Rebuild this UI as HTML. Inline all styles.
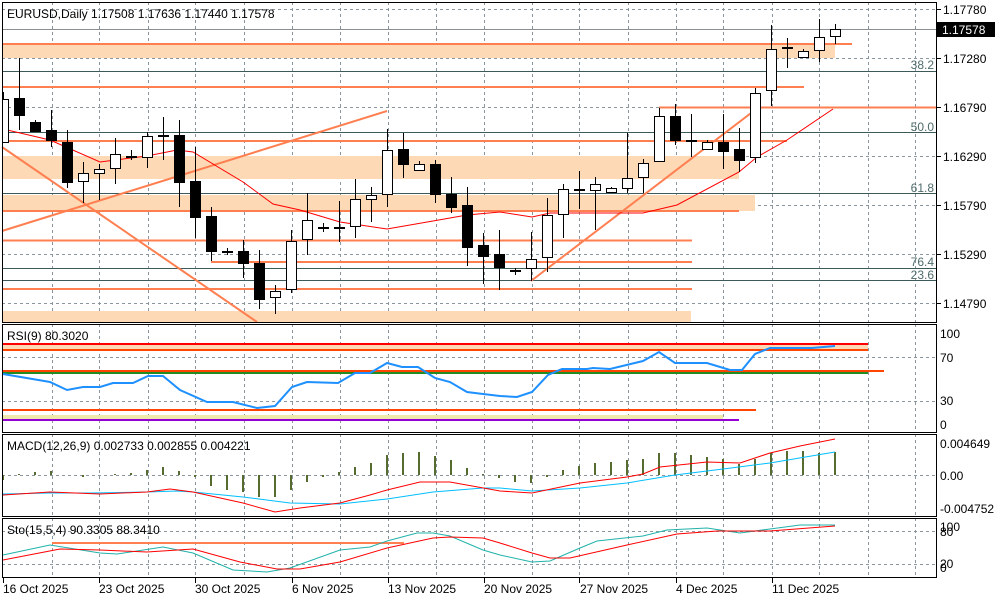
<!DOCTYPE html>
<html><head><meta charset="utf-8"><style>
html,body{margin:0;padding:0;background:#fff;}
svg{display:block;font-family:"Liberation Sans",sans-serif;font-size:12px;}
</style></head><body>
<svg width="1000" height="600" viewBox="0 0 1000 600" xmlns="http://www.w3.org/2000/svg" shape-rendering="crispEdges">
<defs><clipPath id="cm"><rect x="3" y="3" width="933" height="319"/></clipPath></defs>
<rect width="1000" height="600" fill="#fff"/>
<g stroke="#8a96a0" stroke-dasharray="3,3" stroke-width="1">
<path d="M52.5 2V322M99.5 2V322M148.5 2V322M195.5 2V322M244.5 2V322M292.5 2V322M340.5 2V322M388.5 2V322M436.5 2V322M484.5 2V322M532.5 2V322M579.5 2V322M628.5 2V322M676.5 2V322M723.5 2V322M772.5 2V322M819.5 2V322M868.5 2V322M915.5 2V322"/>
<path d="M52.5 324V432M99.5 324V432M148.5 324V432M195.5 324V432M244.5 324V432M292.5 324V432M340.5 324V432M388.5 324V432M436.5 324V432M484.5 324V432M532.5 324V432M579.5 324V432M628.5 324V432M676.5 324V432M723.5 324V432M772.5 324V432M819.5 324V432M868.5 324V432M915.5 324V432"/>
<path d="M52.5 434V516M99.5 434V516M148.5 434V516M195.5 434V516M244.5 434V516M292.5 434V516M340.5 434V516M388.5 434V516M436.5 434V516M484.5 434V516M532.5 434V516M579.5 434V516M628.5 434V516M676.5 434V516M723.5 434V516M772.5 434V516M819.5 434V516M868.5 434V516M915.5 434V516"/>
<path d="M52.5 518V577M99.5 518V577M148.5 518V577M195.5 518V577M244.5 518V577M292.5 518V577M340.5 518V577M388.5 518V577M436.5 518V577M484.5 518V577M532.5 518V577M579.5 518V577M628.5 518V577M676.5 518V577M723.5 518V577M772.5 518V577M819.5 518V577M868.5 518V577M915.5 518V577"/>
<path d="M2 9.5H936M2 58.5H936M2 107.5H936M2 156.5H936M2 205.5H936M2 254.5H936M2 303.5H936"/>
<path d="M2 357.5H936M2 401.5H936M2 475.5H936M2 531.5H936M2 564.5H936"/>
</g>
<g fill="#fdd9b5">
<rect x="3" y="45" width="832" height="13"/>
<rect x="3" y="156" width="736" height="23"/>
<rect x="3" y="195" width="752" height="16"/>
<rect x="3" y="311" width="688" height="11"/>
</g>
<g stroke="#3c5a5a" stroke-width="1">
<path d="M2 71.5H936M2 132.5H936M2 193.5H936M2 268.5H936M2 280.5H936"/>
</g>
<path d="M2 29.5H936" stroke="#8a8f94"/>
<g fill="#4f6b6b" text-anchor="end">
<text x="934" y="69">38.2</text><text x="934" y="131">50.0</text><text x="934" y="192">61.8</text>
<text x="934" y="266">76.4</text><text x="934" y="279">23.6</text>
</g>
<g stroke="#ff7f50" stroke-width="2" fill="none">
<path d="M3 44H852M3 87H804M659 107.5H936M3 141H787M3 211H739M3 240.5H692M211 262H692M3 289H692"/>
<g shape-rendering="auto">
<path d="M2 147L257 322M2 231L387 111M531 281L755 110"/>
</g>
</g>
<polyline shape-rendering="auto" fill="none" stroke="#ff0000" stroke-width="1" points="3,129 50,140 100,162 147,156 177,150 193,152 243,182 273,204 300,210 340,222 387,229 433,221 467,215 500,212 532,217 550,213 643,213 677,205 739,172 757,157 787,140 833,109"/>
<g clip-path="url(#cm)">
<path stroke="#000" stroke-width="1" d="M3.5 92V143M19.5 58V130M35.5 120V131M51.5 110V147M67.5 130V188M83.5 162V203M99.5 164V200M115.5 138V184M131.5 150V160M147.5 132V168M163.5 117V160M179.5 120V207M195.5 147V238M211.5 207V261M227.5 248V255M243.5 240V278M259.5 250V309M275.5 285V314M291.5 230V293M307.5 193V255M323.5 223V232M339.5 201V242M355.5 179V238M371.5 187V222M387.5 129V207M403.5 133V178M419.5 161V170M435.5 160V203M451.5 177V213M467.5 187V266M483.5 233V284M499.5 230V290M515.5 268V275M531.5 232V281M547.5 198V272M563.5 184V238M579.5 171V209M595.5 177V230M611.5 187V193M627.5 133V193M643.5 159V193M659.5 108V162M675.5 104V145M691.5 114V157M707.5 140V150M723.5 114V169M739.5 128V172M755.5 88V163M771.5 25V106M787.5 38V68M803.5 49V58M819.5 19V62M835.5 24V44"/>
<g stroke="#000" stroke-width="1">
<g fill="#fff">
<rect x="-1.5" y="99.5" width="10" height="43"/>
<rect x="78.5" y="173.5" width="10" height="8"/>
<rect x="94.5" y="169.5" width="10" height="4"/>
<rect x="110.5" y="154.5" width="10" height="14"/>
<rect x="126.5" y="156.5" width="10" height="1"/>
<rect x="142.5" y="136.5" width="10" height="21"/>
<rect x="270.5" y="291.5" width="10" height="6"/>
<rect x="286.5" y="241.5" width="10" height="48"/>
<rect x="302.5" y="220.5" width="10" height="19"/>
<rect x="350.5" y="199.5" width="10" height="27"/>
<rect x="366.5" y="195.5" width="10" height="4"/>
<rect x="382.5" y="150.5" width="10" height="44"/>
<rect x="414.5" y="164.5" width="10" height="6"/>
<rect x="526.5" y="259.5" width="10" height="9"/>
<rect x="542.5" y="215.5" width="10" height="42"/>
<rect x="558.5" y="189.5" width="10" height="25"/>
<rect x="590.5" y="184.5" width="10" height="6"/>
<rect x="606.5" y="188.5" width="10" height="4"/>
<rect x="622.5" y="178.5" width="10" height="10"/>
<rect x="638.5" y="163.5" width="10" height="14"/>
<rect x="654.5" y="116.5" width="10" height="45"/>
<rect x="686.5" y="140.5" width="10" height="1"/>
<rect x="702.5" y="142.5" width="10" height="7"/>
<rect x="750.5" y="93.5" width="10" height="64"/>
<rect x="766.5" y="49.5" width="10" height="41"/>
<rect x="798.5" y="51.5" width="10" height="6"/>
<rect x="814.5" y="37.5" width="10" height="13"/>
<rect x="830.5" y="29.5" width="10" height="7"/>
</g>
<g fill="#000">
<rect x="14.5" y="98.5" width="10" height="17"/>
<rect x="30.5" y="122.5" width="10" height="9"/>
<rect x="46.5" y="130.5" width="10" height="10"/>
<rect x="62.5" y="142.5" width="10" height="40"/>
<rect x="158.5" y="135.5" width="10" height="1"/>
<rect x="174.5" y="135.5" width="10" height="47"/>
<rect x="190.5" y="181.5" width="10" height="36"/>
<rect x="206.5" y="216.5" width="10" height="35"/>
<rect x="222.5" y="251.5" width="10" height="1"/>
<rect x="238.5" y="251.5" width="10" height="12"/>
<rect x="254.5" y="263.5" width="10" height="36"/>
<rect x="318.5" y="227.5" width="10" height="1"/>
<rect x="334.5" y="227.5" width="10" height="1"/>
<rect x="398.5" y="149.5" width="10" height="15"/>
<rect x="430.5" y="164.5" width="10" height="30"/>
<rect x="446.5" y="194.5" width="10" height="13"/>
<rect x="462.5" y="205.5" width="10" height="42"/>
<rect x="478.5" y="245.5" width="10" height="11"/>
<rect x="494.5" y="254.5" width="10" height="13"/>
<rect x="510.5" y="270.5" width="10" height="1"/>
<rect x="574.5" y="189.5" width="10" height="1"/>
<rect x="670.5" y="116.5" width="10" height="24"/>
<rect x="718.5" y="142.5" width="10" height="9"/>
<rect x="734.5" y="149.5" width="10" height="11"/>
<rect x="782.5" y="47.5" width="10" height="1"/>
</g>
</g>
</g>
<rect x="3" y="345" width="865" height="4" fill="#fdd9b5"/>
<rect x="3" y="415" width="720" height="4" fill="#eee8aa"/>
<g stroke-width="2" fill="none">
<path d="M3 344H868" stroke="#ff0000"/>
<path d="M3 350H868" stroke="#ff4500"/>
<path d="M3 373H868" stroke="#228b22"/>
<path d="M3 371H884" stroke="#ff4500"/>
<path d="M3 410H756" stroke="#ff4500"/>
<path d="M3 420H739" stroke="#9400d3"/>
</g>
<polyline shape-rendering="auto" fill="none" stroke="#1e90ff" stroke-width="2" points="3,374 50,382 67,390 83,387 100,387 113,383 133,383 148,376 163,376 180,390 207,402 233,402 257,408 275,406 292,387 307,382 338,383 355,373 370,373 387,363 402,367 418,367 435,378 450,382 467,392 483,394 500,396 517,397 532,392 548,375 562,369 587,369 593,368 610,369 643,361 659,352 675,363 707,363 730,370 742,370 755,354 770,348 795,348 812,348 835,346"/>
<path stroke="#556b2f" stroke-width="2" d="M3 475V480M19 475V474M35 475V472M51 475V471M83 475V477M115 475V474M131 475V473M147 475V470M163 475V467M179 475V471M195 475V477M211 475V486M227 475V490M243 475V492M259 475V497M275 475V497M291 475V490M307 475V482M323 475V477M339 475V472M355 475V467M371 475V463M387 475V455M403 475V453M419 475V452M435 475V456M451 475V460M467 475V468M483 475V474M499 475V478M515 475V482M531 475V483M547 475V477M563 475V470M579 475V466M595 475V463M611 475V462M627 475V460M643 475V459M659 475V453M675 475V453M691 475V455M707 475V457M723 475V459M739 475V464M755 475V459M771 475V453M787 475V451M803 475V451M819 475V453M835 475V452"/>
<g shape-rendering="auto" fill="none" stroke-width="1">
<polyline stroke="#00bfff" points="3,494 50,493 90,493 147,492 177,491 193,492 243,497 290,503 340,504 387,499 433,492 483,488 500,488 532,491 580,488 627,483 675,475 723,469 770,463 835,452"/>
<polyline stroke="#ff0000" points="3,495 50,492 100,494 147,492 170,489 193,492 243,503 275,512 300,508 340,503 370,495 387,490 420,482 450,482 500,491 532,493 580,483 627,477 643,474 660,467 707,462 740,463 770,453 800,446 835,439"/>
</g>
<path d="M52 543H404" stroke="#ff7f50" stroke-width="2"/>
<g shape-rendering="auto" fill="none" stroke-width="1">
<polyline stroke="#20b2aa" points="3,555 50,545 100,553 117,554 163,547 193,553 233,570 267,572 290,568 340,550 370,547 387,541 417,533 433,533 450,536 483,550 500,555 532,562 550,561 580,548 597,541 643,536 667,530 707,528 740,533 770,529 800,525 835,525"/>
<polyline stroke="#ff0000" points="3,560 60,549 100,550 147,552 193,549 240,562 277,569 300,569 340,562 387,548 433,538 450,537 483,538 500,543 532,553 550,558 570,558 627,545 677,534 717,531 770,531 835,526"/>
</g>
<g stroke="#000" stroke-width="1" fill="none">
<rect x="2.5" y="2.5" width="934" height="320"/>
<rect x="2.5" y="324.5" width="934" height="108"/>
<rect x="2.5" y="434.5" width="934" height="82"/>
<rect x="2.5" y="518.5" width="934" height="59"/>
<path d="M936.5 9.5H941M936.5 58.5H941M936.5 107.5H941M936.5 156.5H941M936.5 205.5H941M936.5 254.5H941M936.5 303.5H941"/>
<path d="M3.5 578V583M99.5 578V583M195.5 578V583M292.5 578V583M388.5 578V583M484.5 578V583M579.5 578V583M676.5 578V583M772.5 578V583"/>
</g>
<text x="7" y="18" fill="#000">EURUSD,Daily  1.17508 1.17636 1.17440 1.17578</text>
<text x="7" y="340" fill="#000">RSI(9) 80.3020</text>
<text x="7" y="450" fill="#000">MACD(12,26,9) 0.002733 0.002855 0.004221</text>
<text x="7" y="534" fill="#000">Sto(15,5,4) 90.3305 88.3410</text>
<g fill="#000">
<text x="943" y="14">1.17780</text>
<text x="943" y="63">1.17280</text>
<text x="943" y="112">1.16790</text>
<text x="943" y="161">1.16290</text>
<text x="943" y="210">1.15790</text>
<text x="943" y="259">1.15290</text>
<text x="943" y="308">1.14790</text>
<rect x="937" y="22" width="58" height="15" fill="#000"/>
<text x="942" y="34" fill="#fff">1.17578</text>
<text x="940" y="338">100</text>
<text x="940" y="362">70</text>
<text x="940" y="405">30</text>
<text x="940" y="429">0</text>
<text x="940" y="448">0.004649</text>
<text x="940" y="480">0.00</text>
<text x="940" y="513">-0.004752</text>
<text x="940" y="531">100</text>
<text x="940" y="536">80</text>
<text x="940" y="568">20</text>
<text x="940" y="572">0</text>
<text x="3" y="593">16 Oct 2025</text>
<text x="99" y="593">23 Oct 2025</text>
<text x="195" y="593">30 Oct 2025</text>
<text x="292" y="593">6 Nov 2025</text>
<text x="388" y="593">13 Nov 2025</text>
<text x="484" y="593">20 Nov 2025</text>
<text x="580" y="593">27 Nov 2025</text>
<text x="676" y="593">4 Dec 2025</text>
<text x="772" y="593">11 Dec 2025</text>
</g>
</svg>
</body></html>
